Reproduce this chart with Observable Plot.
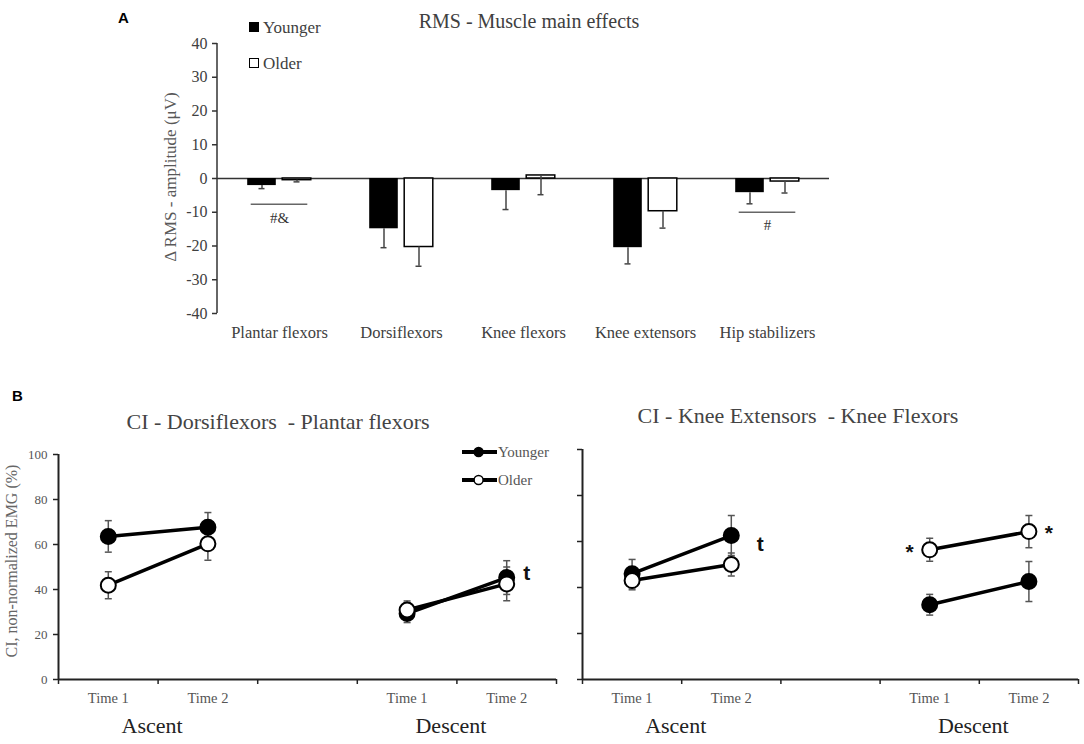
<!DOCTYPE html>
<html><head><meta charset="utf-8">
<script src="https://cdn.jsdelivr.net/npm/d3@7"></script>
<script src="https://cdn.jsdelivr.net/npm/@observablehq/plot@0.6"></script>
<style>
body{margin:0;background:#fff;}
#wrap{position:relative;width:1084px;height:744px;overflow:hidden;font-family:"Liberation Serif","Times New Roman",serif;}
.abs{position:absolute;white-space:pre;line-height:1;}
.c{transform:translate(-50%,-50%);}
.l{transform:translate(0,-50%);}
.rot{transform:translate(-50%,-50%) rotate(-90deg);}
.svgbox{position:absolute;}
</style></head><body><div id="wrap"></div>
<script>
// ---------- Panel A data ----------
const muscles = ["Plantar flexors", "Dorsiflexors", "Knee flexors", "Knee extensors", "Hip stabilizers"];
const youngerRMS = [-2.1, -14.9, -3.6, -20.5, -4.2];
const youngerRMSLow = [-3.0, -20.5, -9.2, -25.3, -7.5];
const olderRMS = [-0.5, -20.3, 0.9, -9.7, -0.9];
const olderRMSLow = [-1.0, -26.0, -4.8, -14.7, -4.3];
const rmsTicks = [-40, -30, -20, -10, 0, 10, 20, 30, 40];
const sigMuscles = ["Plantar flexors", "Hip stabilizers"];
const sigLabels = ["#&", "#"];
const sigLineY = [-7.6, -10.0];
const sigTextY = [-11.9, -13.9];

// ---------- Panel B data ----------
const groups = ["Younger", "Older"];
const phases = ["Ascent", "Descent"];
const times = ["Time 1", "Time 2"];
const ciTicks = [0, 20, 40, 60, 80, 100];
// order: Ascent Time 1, Ascent Time 2, Descent Time 1, Descent Time 2
const dfYoungerMean = [63.6, 67.7, 29.3, 45.3];
const dfYoungerErr = [7.0, 6.5, 4.0, 7.5];
const dfOlderMean = [41.9, 60.3, 30.9, 42.5];
const dfOlderErr = [6.0, 7.3, 4.0, 7.5];
const keYoungerMean = [46.0, 62.6, 32.5, 42.6];
const keYoungerErr = [6.2, 8.7, 4.5, 8.7];
const keOlderMean = [43.0, 50.0, 56.4, 64.3];
const keOlderErr = [4.0, 5.0, 5.0, 7.0];
const dfNoteLabels = ["t"];
const dfNotePhase = ["Descent"];
const dfNoteTime = ["Time 2"];
const dfNoteY = [47];
const keNoteLabels = ["t", "*", "*"];
const keNotePhase = ["Ascent", "Descent", "Descent"];
const keNoteTime = ["Time 2", "Time 1", "Time 2"];
const keNoteY = [59, 57.8, 66];

const SERIF = "Liberation Serif, Times New Roman, serif";
const SANS = "Liberation Sans, Arial, sans-serif";
const wrap = document.getElementById("wrap");
function addDiv(text, cls, left, top, style) {
  const d = document.createElement("div");
  d.className = "abs " + cls;
  d.textContent = text;
  d.style.left = left + "px";
  d.style.top = top + "px";
  Object.assign(d.style, style || {});
  wrap.appendChild(d);
  return d;
}
function addPlot(node, left, top) {
  const box = document.createElement("div");
  box.className = "svgbox";
  box.style.left = left + "px";
  box.style.top = top + "px";
  box.appendChild(node);
  wrap.appendChild(box);
}
const svgNS = "http://www.w3.org/2000/svg";
const leftAxisLine = (stroke, w) => (index, scales, values, dims) => {
  const l = document.createElementNS(svgNS, "line");
  l.setAttribute("x1", dims.marginLeft); l.setAttribute("x2", dims.marginLeft);
  l.setAttribute("y1", dims.marginTop); l.setAttribute("y2", dims.height - dims.marginBottom);
  l.setAttribute("stroke", stroke); l.setAttribute("stroke-width", w);
  return l;
};

// ---------- Panel A ----------
const rmsRows = muscles.map((m, i) => ({muscle: m, younger: youngerRMS[i], youngerLow: youngerRMSLow[i], older: olderRMS[i], olderLow: olderRMSLow[i]}));
const sigRows = sigMuscles.map((m, i) => ({muscle: m, label: sigLabels[i], lineY: sigLineY[i], textY: sigTextY[i]}));
const barInset = 46.7, half = 17.5, capInset = 58;
const plotA = Plot.plot({
  width: 900, height: 350,
  marginLeft: 217, marginRight: 71, marginTop: 43, marginBottom: 37,
  style: {fontFamily: SERIF, fontSize: "16px", color: "#404040", background: "transparent", overflow: "visible"},
  x: {type: "band", domain: muscles, padding: 0, label: null},
  y: {domain: [-40, 40], label: null},
  marks: [
    Plot.ruleY([0], {stroke: "#333", strokeWidth: 1.5}),
    Plot.barY(rmsRows, {x: "muscle", y: "younger", fill: "#000", insetLeft: barInset, insetRight: barInset, dx: -half}),
    Plot.barY(rmsRows, {x: "muscle", y: "older", fill: "#fff", stroke: "#000", strokeWidth: 1.5, insetLeft: barInset, insetRight: barInset, dx: half}),
    Plot.ruleX(rmsRows, {x: "muscle", y1: "younger", y2: "youngerLow", stroke: "#444", strokeWidth: 1.5, dx: -half}),
    Plot.ruleX(rmsRows, {x: "muscle", y1: "older", y2: "olderLow", stroke: "#444", strokeWidth: 1.5, dx: half}),
    Plot.tickY(rmsRows, {x: "muscle", y: "youngerLow", stroke: "#444", strokeWidth: 1.5, insetLeft: capInset, insetRight: capInset, dx: -half}),
    Plot.tickY(rmsRows, {x: "muscle", y: "olderLow", stroke: "#444", strokeWidth: 1.5, insetLeft: capInset, insetRight: capInset, dx: half}),
    Plot.tickY(sigRows, {x: "muscle", y: "lineY", stroke: "#666", strokeWidth: 1.5, insetLeft: 32.7, insetRight: 32.7}),
    Plot.text(sigRows, {x: "muscle", y: "textY", text: "label", fontSize: 15, fontFamily: SERIF, fill: "#333"}),
    leftAxisLine("#333", 1.5),
    Plot.axisY({ticks: rmsTicks, tickSize: 5, tickPadding: 5, fontSize: 16, fontFamily: SERIF, tickFormat: d => String(d), stroke: "#333", strokeWidth: 1.5, label: null}),
    Plot.axisX({tickSize: 0, tickPadding: 13, fontSize: 16.5, fontFamily: SERIF, label: null})
  ]
});
addPlot(plotA, 0, 0);

addDiv("A", "", 118, 10, {fontFamily: SANS, fontWeight: "bold", fontSize: "15px", color: "#000"});
addDiv("RMS - Muscle main effects", "c", 529, 21, {fontSize: "20px", color: "#404040"});
addDiv("Δ RMS - amplitude (μV)", "rot", 170, 177, {fontSize: "17px", color: "#595959"});
// legend A
const legA = (label, fill, y) => {
  const sq = document.createElement("div");
  sq.className = "abs";
  Object.assign(sq.style, {left: "249px", top: (y - 5) + "px", width: "8px", height: "8px", background: fill, border: "1.5px solid #000"});
  wrap.appendChild(sq);
  addDiv(label, "l", 263, y, {fontSize: "17px", color: "#404040"});
};
legA(groups[0], "#000", 27);
legA(groups[1], "#fff", 63);

// ---------- Panel B ----------
const capSymbol = {draw(ctx, size) { const w = Math.sqrt(size / Math.PI); ctx.moveTo(-w, 0); ctx.lineTo(w, 0); }};
const nSlots = phases.length * (times.length + 1) - 1;
const slotOf = (p, t) => phases.indexOf(p) * (times.length + 1) + times.indexOf(t) + 0.5;
function ciPanel(o) {
  const rows = [];
  groups.forEach(g => {
    const m = g === "Younger" ? o.yMean : o.oMean;
    const e = g === "Younger" ? o.yErr : o.oErr;
    phases.forEach((p, pi) => times.forEach((t, ti) => {
      const k = pi * times.length + ti;
      rows.push({group: g, phase: p, time: t, pos: slotOf(p, t), mean: m[k], lo: m[k] - e[k], hi: m[k] + e[k]});
    }));
  });
  const notes = o.noteLabels.map((s, i) => ({label: s, pos: slotOf(o.notePhase[i], o.noteTime[i]), y: o.noteY[i], dx: o.noteDx[i]}));
  const slotTicks = [];
  phases.forEach(p => times.forEach(t => slotTicks.push(slotOf(p, t))));
  const phaseRows = phases.map(p => ({phase: p, pos: (slotOf(p, times[0]) + slotOf(p, times[times.length - 1])) / 2}));
  return Plot.plot({
    width: o.width, height: 300,
    marginLeft: o.marginLeft, marginRight: o.marginRight, marginTop: o.marginTop, marginBottom: 61,
    style: {fontFamily: SERIF, fontSize: "13px", color: "#555", background: "transparent", overflow: "visible"},
    x: {domain: [0, nSlots], label: null},
    y: {domain: [0, 100], label: null},
    marks: [
      Plot.ruleY([0], {stroke: "#222", strokeWidth: 2}),
      Plot.ruleX([0], {stroke: "#222", strokeWidth: 2}),
      Plot.axisY({ticks: ciTicks, tickSize: 5, tickPadding: 6, fontSize: 13, fontFamily: SERIF, stroke: "#222", strokeWidth: 1.5, tickFormat: o.showY ? (d => String(d)) : (() => ""), label: null}),
      Plot.axisX({ticks: d3.range(0, nSlots + 1), tickSize: 5, tickFormat: () => "", stroke: "#222", strokeWidth: 1.5, label: null}),
      Plot.axisX({ticks: slotTicks, tickSize: 0, tickPadding: 13, fontSize: 14.5, fontFamily: SERIF, tickFormat: d => times[Math.floor(d) % (times.length + 1)], label: null}),
      Plot.text(phaseRows, {x: "pos", text: "phase", frameAnchor: "bottom", dy: 53, dx: -6, fontSize: 22, fontFamily: SERIF, fill: "#222"}),
      Plot.ruleX(rows, {x: "pos", y1: "lo", y2: "hi", stroke: "#555", strokeWidth: 1.5}),
      Plot.dot(rows, {x: "pos", y: "lo", symbol: capSymbol, r: 3.5, stroke: "#555", fill: "none", strokeWidth: 1.5}),
      Plot.dot(rows, {x: "pos", y: "hi", symbol: capSymbol, r: 3.5, stroke: "#555", fill: "none", strokeWidth: 1.5}),
      Plot.line(rows, {x: "pos", y: "mean", z: d => d.group + d.phase, stroke: "#000", strokeWidth: 3.5}),
      Plot.dot(rows.filter(d => d.group === "Younger"), {x: "pos", y: "mean", r: 7.5, fill: "#000", stroke: "#000", strokeWidth: 2}),
      Plot.dot(rows.filter(d => d.group === "Older"), {x: "pos", y: "mean", r: 7.5, fill: "#fff", stroke: "#000", strokeWidth: 2}),
      ...notes.map(n => Plot.text([n], {x: "pos", y: "y", text: "label", dx: n.dx, dy: n.label === "*" ? 6 : 0, fontFamily: SANS, fontWeight: "bold", fontSize: 21, fill: "#111"}))
    ]
  });
}
const plotBL = ciPanel({yMean: dfYoungerMean, yErr: dfYoungerErr, oMean: dfOlderMean, oErr: dfOlderErr,
  noteLabels: dfNoteLabels, notePhase: dfNotePhase, noteTime: dfNoteTime, noteY: dfNoteY, noteDx: [20],
  showY: true, width: 560, marginLeft: 58, marginRight: 4, marginTop: 14});
addPlot(plotBL, 0, 440);
const plotBR = ciPanel({yMean: keYoungerMean, yErr: keYoungerErr, oMean: keOlderMean, oErr: keOlderErr,
  noteLabels: keNoteLabels, notePhase: keNotePhase, noteTime: keNoteTime, noteY: keNoteY, noteDx: [29, -20, 20],
  showY: false, width: 524, marginLeft: 22, marginRight: 6, marginTop: 9});
addPlot(plotBR, 560, 440);

addDiv("B", "", 12, 388, {fontFamily: SANS, fontWeight: "bold", fontSize: "15px", color: "#000"});
addDiv("CI - Dorsiflexors  - Plantar flexors", "c", 278, 422, {fontSize: "22px", color: "#444"});
addDiv("CI - Knee Extensors  - Knee Flexors", "c", 798, 416, {fontSize: "22px", color: "#444"});
addDiv("CI, non-normalized EMG (%)", "rot", 12, 561, {fontSize: "16px", color: "#666"});
// legend B
const legB = (label, fill, y) => {
  const s = document.createElementNS(svgNS, "svg");
  s.setAttribute("width", 40); s.setAttribute("height", 14);
  s.style.position = "absolute"; s.style.left = "460px"; s.style.top = (y - 7) + "px";
  const ln = document.createElementNS(svgNS, "line");
  ln.setAttribute("x1", 2); ln.setAttribute("x2", 37); ln.setAttribute("y1", 7); ln.setAttribute("y2", 7);
  ln.setAttribute("stroke", "#000"); ln.setAttribute("stroke-width", 4);
  const c = document.createElementNS(svgNS, "circle");
  c.setAttribute("cx", 18.6); c.setAttribute("cy", 7); c.setAttribute("r", 4.5);
  c.setAttribute("fill", fill); c.setAttribute("stroke", "#000"); c.setAttribute("stroke-width", 1.5);
  s.appendChild(ln); s.appendChild(c);
  wrap.appendChild(s);
  addDiv(label, "l", 498, y, {fontSize: "15px", color: "#555"});
};
legB(groups[0], "#000", 452);
legB(groups[1], "#fff", 480);
</script>
</body></html>
